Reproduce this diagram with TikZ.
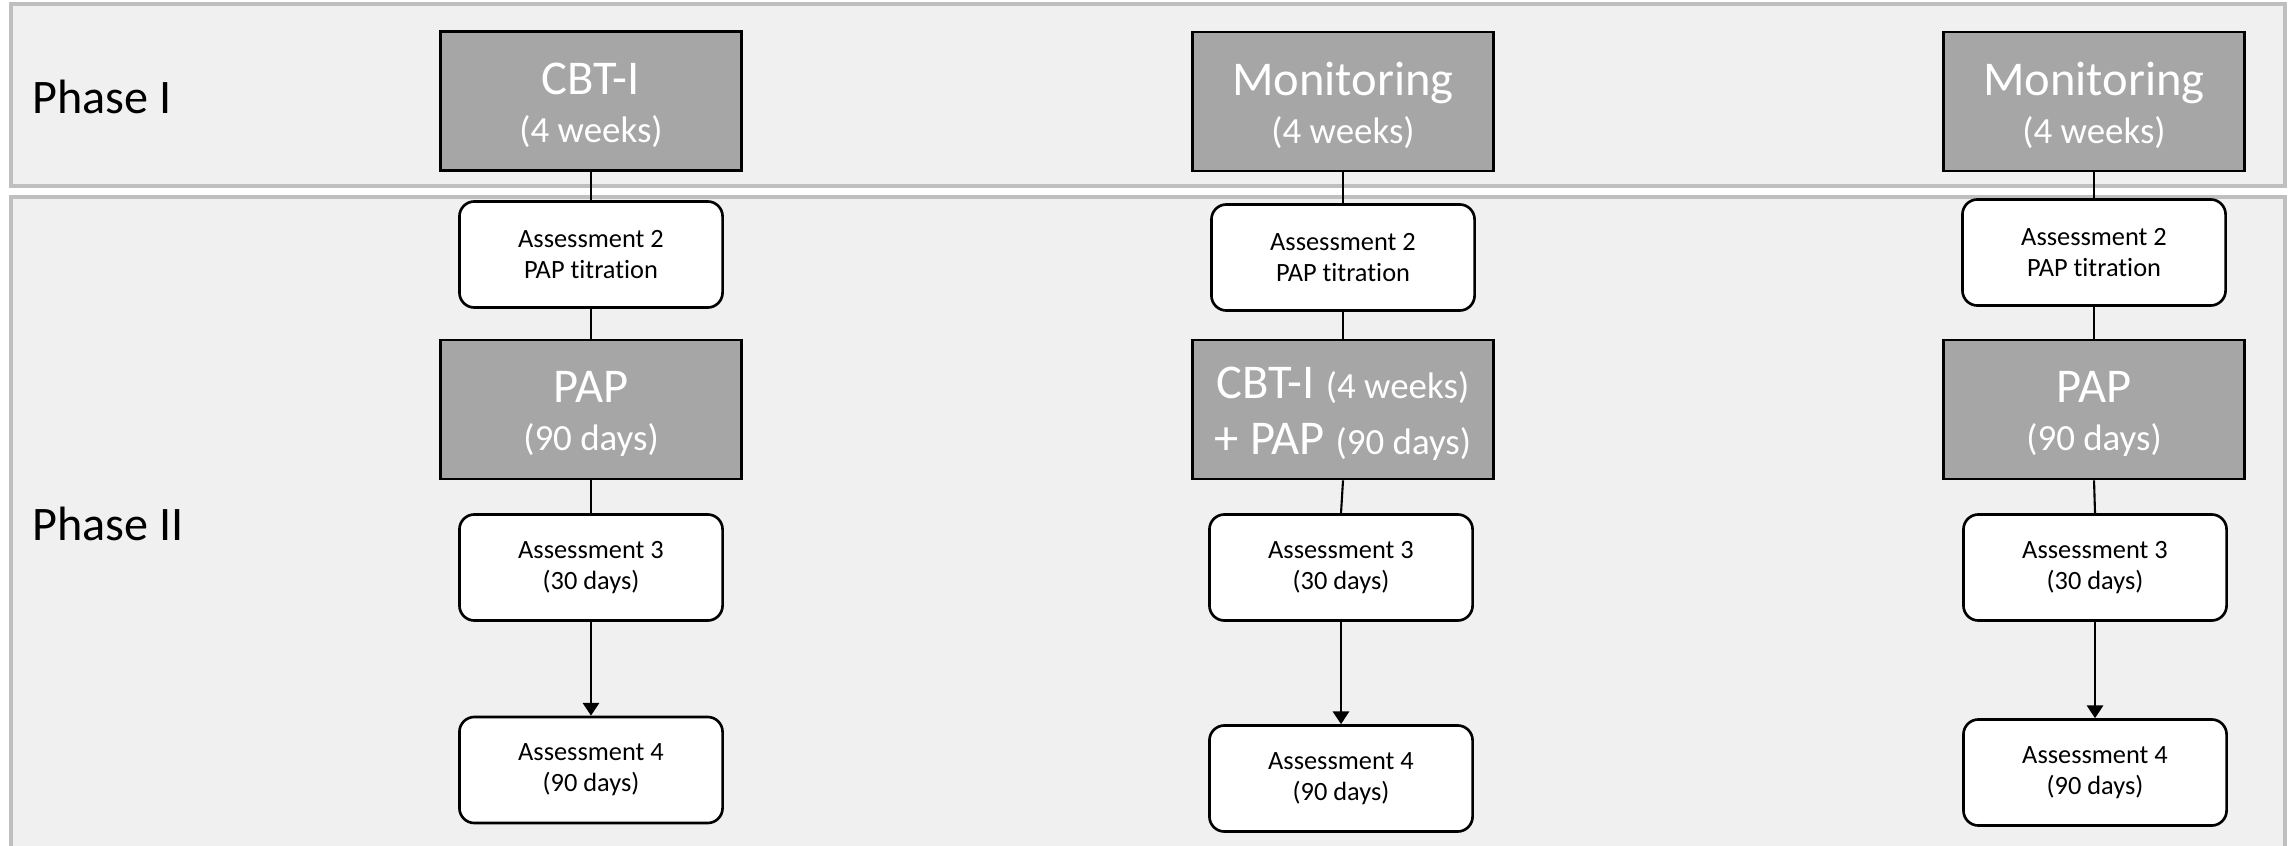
\documentclass[tikz,border=0pt]{standalone}
\usepackage{fontspec}
\setmainfont{Carlito}[Ligatures=NoCommon]
\usetikzlibrary{arrows.meta}
\definecolor{panelfill}{HTML}{F0F0F0}
\definecolor{panelline}{HTML}{BFBFBF}
\definecolor{greyfill}{HTML}{A6A6A6}
\newcommand\tsmall{\fontsize{10.5}{13.6}\selectfont}
\begin{document}
\begin{tikzpicture}[x=0.01cm,y=-0.01cm,
 panel/.style={draw=panelline, fill=panelfill, line width=0.9pt},
 treat/.style={draw=black, fill=greyfill, line width=0.8pt, minimum width=3.01cm, minimum height=1.39cm, inner sep=0pt},
 treattext/.style={text=white, align=center, inner sep=0pt, font=\fontsize{13.8}{13.6}\selectfont},
 combotext/.style={treattext, font=\fontsize{13.8}{16.2}\selectfont},
 assess/.style={draw=black, fill=white, rounded corners=0.15cm, line width=0.75pt, minimum width=2.63cm, minimum height=1.06cm, align=center, inner sep=0pt, font=\fontsize{7.5}{8.8}\selectfont},
 link/.style={line width=0.6pt},
 arr/.style={line width=0.6pt, -{Triangle[width=4.6pt,length=3.6pt]}},
 phase/.style={anchor=west, font=\fontsize{13.7}{16}\selectfont, inner sep=0pt}
]
\useasboundingbox[fill=white] (0,0) rectangle (2295,846);
% panels
\draw[panel] (11,4) rectangle (2285,186);
\draw[panel] (11,197) rectangle (2285,900);
\node[phase] (ph1) at (32,97) {Phase I};
\node[phase] (ph2) at (32,524) {Phase II};

% column 1
\node[treat] (t1) at (591,101) {};
\node[treattext] (t1l) at ([yshift=-1.2pt]t1.center) {CBT-I\\{\tsmall (4 weeks)}};
\node[assess] (a21) at (591,254.5) {Assessment 2\\PAP titration};
\node[treat] (p1) at (591,409.5) {};
\node[treattext] (p1l) at ([yshift=-1.2pt]p1.center) {PAP\\{\tsmall (90 days)}};
\node[assess] (a31) at (591,567.5) {Assessment 3\\(30 days)};
\node[assess] (a41) at (591,770) {Assessment 4\\(90 days)};

% column 2
\node[treat] (t2) at (1343,101.5) {};
\node[treattext] (t2l) at ([yshift=-1.2pt]t2.center) {Monitoring\\{\tsmall (4 weeks)}};
\node[assess] (a22) at (1343,257.5) {Assessment 2\\PAP titration};
\node[treat] (p2) at (1343,409.5) {};
\node[combotext] (p2l) at ([yshift=-1.2pt]p2.center) {CBT-I {\tsmall (4 weeks)}\\+ PAP {\tsmall (90 days)}};
\node[assess] (a32) at (1341,567.5) {Assessment 3\\(30 days)};
\node[assess] (a42) at (1341,778.5) {Assessment 4\\(90 days)};

% column 3
\node[treat] (t3) at (2094,101.5) {};
\node[treattext] (t3l) at ([yshift=-1.2pt]t3.center) {Monitoring\\{\tsmall (4 weeks)}};
\node[assess] (a23) at (2094,252.5) {Assessment 2\\PAP titration};
\node[treat] (p3) at (2094,409.5) {};
\node[treattext] (p3l) at ([yshift=-1.2pt]p3.center) {PAP\\{\tsmall (90 days)}};
\node[assess] (a33) at (2095,567.5) {Assessment 3\\(30 days)};
\node[assess] (a43) at (2095,772.5) {Assessment 4\\(90 days)};

% connectors
\foreach \c in {1,2,3}{
  \draw[link] (t\c.south) -- (a2\c.north);
  \draw[link] (a2\c.south) -- (p\c.north);
  \draw[link] (p\c.south) -- (a3\c.north);
  \draw[arr] (a3\c.south) -- (a4\c.north);
}
\end{tikzpicture}
\end{document}
